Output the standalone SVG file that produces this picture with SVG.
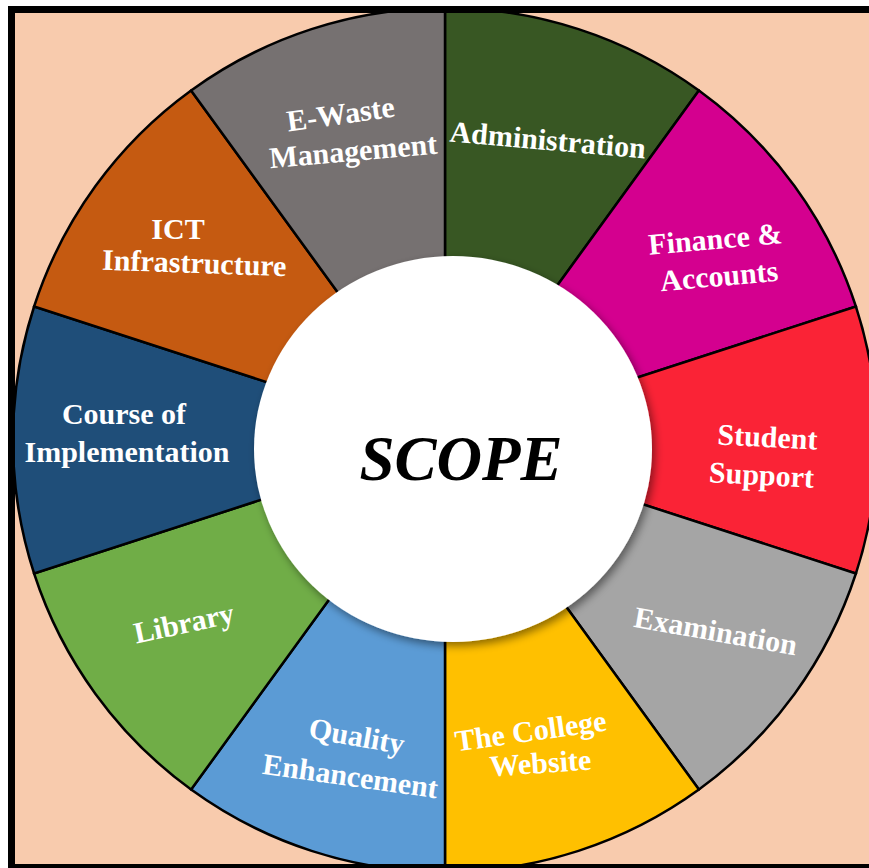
<svg xmlns="http://www.w3.org/2000/svg" width="869" height="868" viewBox="0 0 869 868">
<defs>
<filter id="sh" x="-20%" y="-20%" width="140%" height="140%">
<feGaussianBlur in="SourceAlpha" stdDeviation="4"/>
<feOffset dx="3" dy="4" result="b"/>
<feFlood flood-color="#000" flood-opacity="0.45"/>
<feComposite in2="b" operator="in"/>
<feMerge><feMergeNode/><feMergeNode in="SourceGraphic"/></feMerge>
</filter>
<clipPath id="frame"><rect x="15" y="13" width="854" height="851"/></clipPath>
</defs>
<style>
.seg{stroke:#000;stroke-width:2.5;stroke-linejoin:miter}
.lbl{font-family:"Liberation Serif","Times New Roman",serif;font-weight:bold;font-size:30px;fill:#fff;text-anchor:middle}
</style>
<rect width="869" height="868" fill="#fff"/>
<rect x="11.5" y="9.5" width="870" height="858" fill="#F8CBAD" stroke="#000" stroke-width="7"/>
<g clip-path="url(#frame)">
<g id="administration"><path class="seg" fill="#385723" d="M445,440 L445,8 A432,432 0 0 1 698.9,90.5 Z"/></g>
<g id="finance"><path class="seg" fill="#D4008F" d="M445,440 L698.9,90.5 A432,432 0 0 1 855.9,306.5 Z"/></g>
<g id="student"><path class="seg" fill="#FA2336" d="M445,440 L855.9,306.5 A432,432 0 0 1 855.9,573.5 Z"/></g>
<g id="examination"><path class="seg" fill="#A5A5A5" d="M445,440 L855.9,573.5 A432,432 0 0 1 698.9,789.5 Z"/></g>
<g id="website"><path class="seg" fill="#FFC000" d="M445,440 L698.9,789.5 A432,432 0 0 1 445,872 Z"/></g>
<g id="quality"><path class="seg" fill="#5B9BD5" d="M445,440 L445,872 A432,432 0 0 1 191.1,789.5 Z"/></g>
<g id="library"><path class="seg" fill="#70AD47" d="M445,440 L191.1,789.5 A432,432 0 0 1 34.1,573.5 Z"/></g>
<g id="course"><path class="seg" fill="#1F4E79" d="M445,440 L34.1,573.5 A432,432 0 0 1 34.1,306.5 Z"/></g>
<g id="ict"><path class="seg" fill="#C55A11" d="M445,440 L34.1,306.5 A432,432 0 0 1 191.1,90.5 Z"/></g>
<g id="ewaste"><path class="seg" fill="#767171" d="M445,440 L191.1,90.5 A432,432 0 0 1 445,8 Z"/></g>
</g>
<rect x="11.5" y="9.5" width="870" height="858" fill="none" stroke="#000" stroke-width="7"/>
<g id="labels">
<text class="lbl" transform="translate(547,150) rotate(5)">Administration</text>
<text class="lbl" transform="translate(716,249) rotate(-5)">Finance &amp;</text>
<text class="lbl" transform="translate(720,286) rotate(-5)">Accounts</text>
<text class="lbl" transform="translate(767,447) rotate(3)">Student</text>
<text class="lbl" transform="translate(761,485) rotate(3)">Support</text>
<text class="lbl" transform="translate(714,641) rotate(10)">Examination</text>
<text class="lbl" transform="translate(532,741) rotate(-8)">The College</text>
<text class="lbl" transform="translate(541,773) rotate(-4)">Website</text>
<text class="lbl" transform="translate(355,746) rotate(10)">Quality</text>
<text class="lbl" transform="translate(349,786) rotate(8)">Enhancement</text>
<text class="lbl" transform="translate(186,633) rotate(-12)">Library</text>
<text class="lbl" transform="translate(124,424)">Course of</text>
<text class="lbl" transform="translate(127,462)">Implementation</text>
<text class="lbl" transform="translate(178,239)">ICT</text>
<text class="lbl" transform="translate(194,273) rotate(2)">Infrastructure</text>
<text class="lbl" transform="translate(342,124) rotate(-8)">E-Waste</text>
<text class="lbl" transform="translate(354,161) rotate(-5)">Management</text>
</g>
<g id="scope">
<ellipse cx="453" cy="449" rx="199" ry="193" fill="#fff" filter="url(#sh)"/>
<text x="461" y="480" text-anchor="middle" font-family="Liberation Serif, Times New Roman, serif" font-weight="bold" font-style="italic" font-size="63">SCOPE</text>
</g>
</svg>
